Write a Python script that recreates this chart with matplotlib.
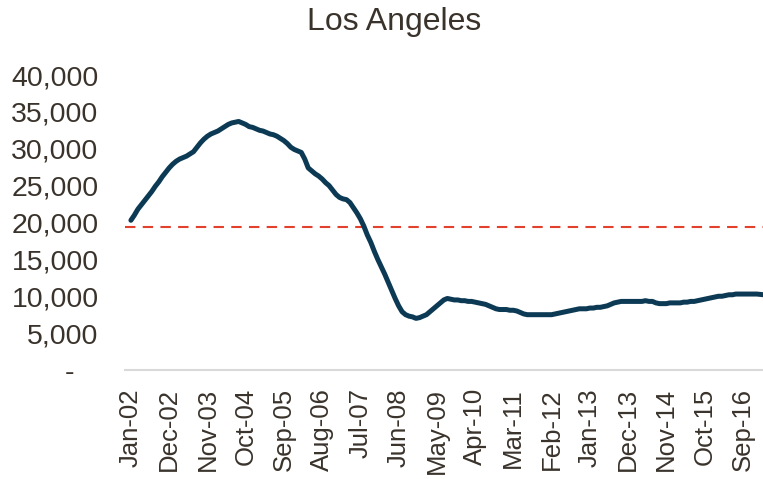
import pandas as pd
import matplotlib.pyplot as plt
from matplotlib.ticker import FuncFormatter

plt.rcParams['font.family'] = ['Liberation Sans', 'DejaVu Sans']

# --- data (monthly, Jan-2002 onwards) ---
title = 'Los Angeles'
start_month = '2002-01-01'
values = [
    # 2002
    20300, 21000, 21800, 22400, 23000, 23600, 24200, 24900, 25500, 26200, 26800, 27400,
    # 2003
    27900, 28300, 28600, 28800, 29000, 29300, 29600, 30200, 30800, 31300, 31700, 32000,
    # 2004
    32200, 32400, 32700, 33000, 33300, 33500, 33600, 33700, 33500, 33300, 33000, 32900,
    # 2005
    32700, 32500, 32400, 32200, 32000, 31900, 31700, 31400, 31100, 30700, 30200, 29900,
    # 2006
    29700, 29500, 28600, 27400, 27000, 26600, 26300, 25900, 25400, 25000, 24400, 23800,
    # 2007
    23400, 23200, 23100, 22700, 22000, 21300, 20500, 19500, 18300, 17300, 16100, 15000,
    # 2008
    14000, 13000, 11900, 10800, 9700, 8700, 7900, 7500, 7300, 7200, 7000, 7100,
    # 2009
    7300, 7500, 7900, 8300, 8700, 9100, 9500, 9700, 9600, 9500, 9500, 9400,
    # 2010
    9400, 9300, 9300, 9200, 9100, 9000, 8900, 8700, 8500, 8300, 8200, 8200,
    # 2011
    8200, 8100, 8100, 8000, 7800, 7600, 7500, 7500, 7500, 7500, 7500, 7500,
    # 2012
    7500, 7500, 7600, 7700, 7800, 7900, 8000, 8100, 8200, 8300, 8300, 8300,
    # 2013
    8400, 8400, 8500, 8500, 8600, 8700, 8900, 9100, 9200, 9300, 9300, 9300,
    # 2014
    9300, 9300, 9300, 9300, 9400, 9300, 9300, 9100, 9000, 9000, 9000, 9100,
    # 2015
    9100, 9100, 9100, 9200, 9200, 9300, 9300, 9400, 9500, 9600, 9700, 9800,
    # 2016
    9900, 10000, 10000, 10100, 10200, 10200, 10300, 10300, 10300, 10300, 10300, 10300,
    # 2017
    10300, 10250, 10200,
]
threshold = 19400
tick_step = 11
y_ticks = [0, 5000, 10000, 15000, 20000, 25000, 30000, 35000, 40000]

months = pd.date_range(start_month, periods=len(values), freq='MS')
labels = [d.strftime('%b-%y') for d in months]
x = list(range(len(values)))

text_color = '#3a332c'
line_color = '#0c3a54'
red = '#e2412e'

fig = plt.figure(figsize=(7.63, 4.79), dpi=100)
ax = fig.add_axes([125 / 763, 1 - 370 / 479, 1 - 125 / 763, (370 - 75) / 479])

ax.plot(x, values, color=line_color, linewidth=3.6, solid_capstyle='round', zorder=3)
ax.axhline(threshold, color=red, linewidth=1.5, linestyle=(0, (5, 3.5)), zorder=2)

ax.set_ylim(0, 40000)
ax.set_xlim(-1.7, 181.8)
ax.set_yticks(y_ticks)
ax.yaxis.set_major_formatter(FuncFormatter(lambda v, p: '-   ' if v == 0 else f'{int(v):,}'))
ax.set_xticks(x[::tick_step])
ax.set_xticklabels(labels[::tick_step], rotation=90, ha='center', va='top')

ax.tick_params(axis='y', length=0, pad=19, labelsize=20.5, labelcolor=text_color)
ax.tick_params(axis='x', length=0, pad=13, labelsize=18.5, labelcolor=text_color)

for side in ['top', 'right', 'left']:
    ax.spines[side].set_visible(False)
ax.spines['bottom'].set_color('#d9d9d9')
ax.spines['bottom'].set_linewidth(1.5)

fig.text(394 / 763, 1 - 22 / 479, title, ha='center', va='center',
         fontsize=23, color=text_color)

fig.savefig('out.png', dpi=100)
